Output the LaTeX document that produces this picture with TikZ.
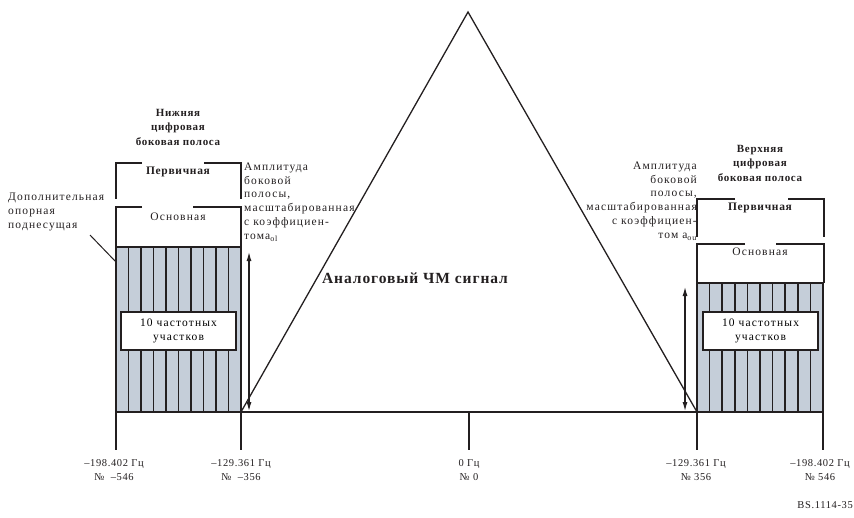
\documentclass[tikz,border=0pt]{standalone}
\usepackage{fontspec}
\setmainfont{Liberation Serif}
\newfontfamily\lsp[LetterSpace=10]{Liberation Serif}
\newfontfamily\lspb[LetterSpace=6]{Liberation Serif}
\usetikzlibrary{arrows.meta}
\definecolor{dk}{HTML}{231F20}
\definecolor{bf}{HTML}{C5CED9}
\begin{document}
\begin{tikzpicture}[x=1pt,y=-1pt,
  ln/.style={line width=1.3pt, draw=dk},
  stripe/.style={line width=1.6pt, draw=dk},
  thin/.style={line width=1pt, draw=dk},
  blk/.style={draw=dk, line width=1.5pt, fill=bf, inner sep=0pt},
  ibox/.style={draw=dk, line width=1.4pt, fill=white, inner sep=0pt, align=center, font=\lsp\fontsize{11.5}{14}\selectfont},
  txt/.style={inner sep=0pt, font=\lsp\fontsize{11.5}{13.8}\selectfont, text=dk},
  ttl/.style={inner sep=0pt, align=center, font=\lspb\bfseries\fontsize{11}{14.5}\selectfont, text=dk},
  lbl/.style={inner sep=0pt, align=center, font=\lspb\fontsize{10.5}{14}\selectfont, text=dk},
  dbl/.style={line width=1.1pt, draw=dk, {Latex[length=9pt,width=5pt]}-{Latex[length=9pt,width=5pt]}}
]
\useasboundingbox (0,0) rectangle (854,517);

% blocks
\node[blk, minimum width=125pt, minimum height=165pt] (lb) at (178.5,329.5) {};
\foreach \i in {1,...,9} \draw[stripe] (116+\i*12.5,247) -- (116+\i*12.5,412);
\node[blk, minimum width=126pt, minimum height=129pt] (rb) at (760,347.5) {};
\foreach \i in {1,...,9} \draw[stripe] (697+\i*12.6,283) -- (697+\i*12.6,412);

\node[ibox, minimum width=115pt, minimum height=38pt] (li) at (178.5,331) {10 частотных\\участков};
\node[ibox, minimum width=115pt, minimum height=38pt] (ri) at (760.5,331) {10 частотных\\участков};

% triangle and baseline
\coordinate (ta) at (468,12);
\coordinate (tl) at (241,412);
\coordinate (tr) at (697,412);
\draw[ln] (tl) -- (tr);
\draw[ln] (tl) -- (ta) -- (tr);

% brackets left
\node[txt, font=\lspb\bfseries\fontsize{11.5}{12}\selectfont] (lp) at (178,172) {Первичная};
\draw[ln] (142,163) -- (116,163) -- (116,199);
\draw[ln] (204,163) -- (241,163) -- (241,199);
\node[txt] (lo) at (178,217) {Основная};
\draw[ln] (142,207) -- (116,207) -- (116,247);
\draw[ln] (193,207) -- (241,207) -- (241,247);

% brackets right
\node[txt, font=\lspb\bfseries\fontsize{11.5}{12}\selectfont] (rp) at (760,208) {Первичная};
\draw[ln] (735,199) -- (697,199) -- (697,237);
\draw[ln] (788,199) -- (824,199) -- (824,237);
\node[txt] (ro) at (760,252) {Основная};
\draw[ln] (745,244) -- (697,244) -- (697,283);
\draw[ln] (776,244) -- (824,244) -- (824,283);

% ticks
\foreach \x/\n in {116/a,241/b,469/c,697/d,823/e} {
  \coordinate (t\n1) at (\x,412);
  \coordinate (t\n2) at (\x,450);
  \draw[ln] (t\n1) -- (t\n2);
}
\node[lbl] (la) at (114,470) {–198.402 Гц\\№~~–546};
\node[lbl] (lb2) at (241,470) {–129.361 Гц\\№~~–356};
\node[lbl] (lc) at (469,470) {0 Гц\\№ 0};
\node[lbl] (ld) at (696,470) {–129.361 Гц\\№ 356};
\node[lbl] (le) at (820,470) {–198.402 Гц\\№ 546};
\node[lbl, anchor=east] (bs) at (853,505) {BS.1114-35};

% arrows
\coordinate (la1) at (249,252); \coordinate (la2) at (249,411);
\draw[dbl] (la1) -- (la2);
\coordinate (ra1) at (685,287); \coordinate (ra2) at (685,411);
\draw[dbl] (ra1) -- (ra2);

% titles
\node[ttl] (tlt) at (178,127) {Нижняя\\цифровая\\боковая полоса};
\node[ttl] (trt) at (760,163) {Верхняя\\цифровая\\боковая полоса};
\node[txt, font=\lspb\bfseries\fontsize{15.5}{17}\selectfont] (ctr) at (415,278) {Аналоговый ЧМ сигнал};

% amplitude texts
\node[txt, align=left, anchor=west] (lam) at (244,202) {Амплитуда\\боковой\\полосы,\\масштабированная\\с коэффициен-\\тома\textsubscript{ol}};
\node[txt, align=right, anchor=east] (ram) at (697,201) {Амплитуда\\боковой\\полосы,\\масштабированная\\с коэффициен-\\том a\textsubscript{ou}};

% additional pilot
\node[txt, align=left, anchor=west] (dop) at (8,212) {Дополнительная\\опорная\\поднесущая};
\coordinate (dp1) at (90,235); \coordinate (dp2) at (116,262);
\draw[thin] (dp1) -- (dp2);
\end{tikzpicture}
\end{document}
